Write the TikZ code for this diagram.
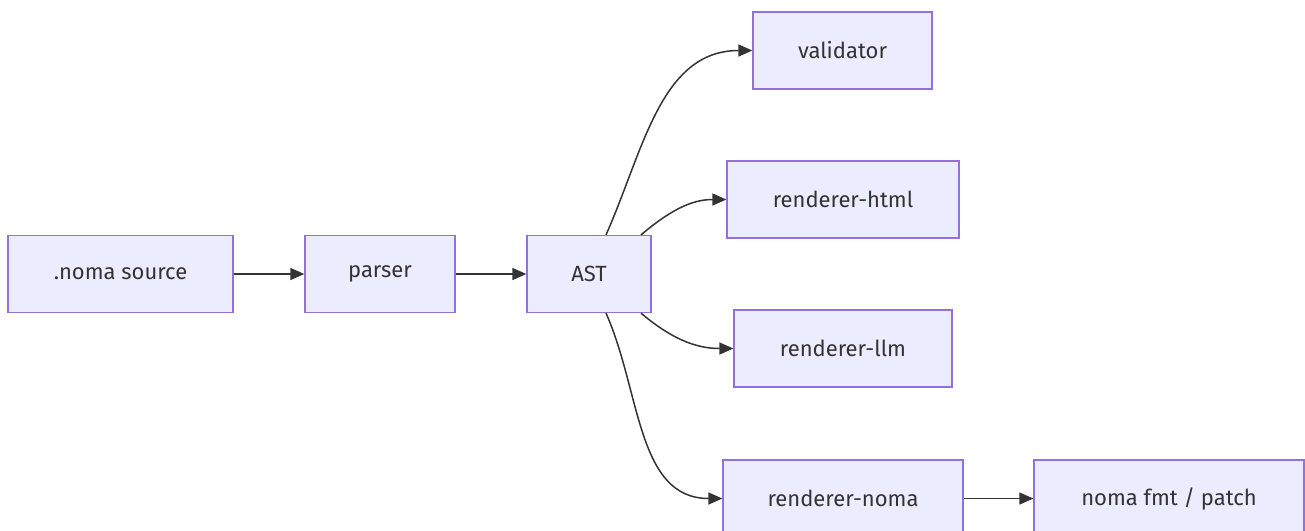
\documentclass[tikz,border=0pt]{standalone}
\usepackage{fontspec}
\setmainfont{Fira Sans}
\usetikzlibrary{arrows.meta}
\definecolor{boxfill}{HTML}{ECECFF}
\definecolor{boxline}{HTML}{9370DB}
\definecolor{ink}{HTML}{333333}
\tikzset{
  stage/.style={draw=boxline, fill=boxfill, line width=1.3pt, text=ink,
    minimum height=77pt, inner sep=0pt, font=\fontsize{22}{26}\selectfont},
  flow/.style={-{Triangle[length=14pt,width=12pt]}, draw=ink, line width=1.5pt}
}
\begin{document}
\begin{tikzpicture}[x=1pt,y=-1pt]
      \useasboundingbox (0,0) rectangle (1305,530);
      \draw
        (120.5,274) node[stage, minimum width=225pt] (src){.noma source}
        (380,274) node[stage, minimum width=150pt] (parser){parser}
        (589,274) node[stage, minimum width=124pt] (ast){AST}
        (842.5,50.5) node[stage, minimum width=179pt] (val){validator}
        (843,199.5) node[stage, minimum width=232pt] (html){renderer-html}
        (843,348.5) node[stage, minimum width=218pt] (llm){renderer-llm}
        (843,498.5) node[stage, minimum width=240pt] (noma){renderer-noma}
        (1169,498.5) node[stage, minimum width=270pt] (fmt){noma fmt / patch};
      \begin{scope}[flow]
        \draw (src) to (parser);
        \draw (parser) to (ast);
        \draw ([xshift=17pt]ast.north) to[out=66,in=180] (val.west);
        \draw ([xshift=52pt]ast.north) to[out=40,in=180] (html.west);
        \draw ([xshift=52pt]ast.south) to[out=-40,in=180] (llm.west);
        \draw ([xshift=17pt]ast.south) to[out=-66,in=180] (noma.west);
        \draw (noma) to (fmt);
      \end{scope}
    \end{tikzpicture}
\end{document}
